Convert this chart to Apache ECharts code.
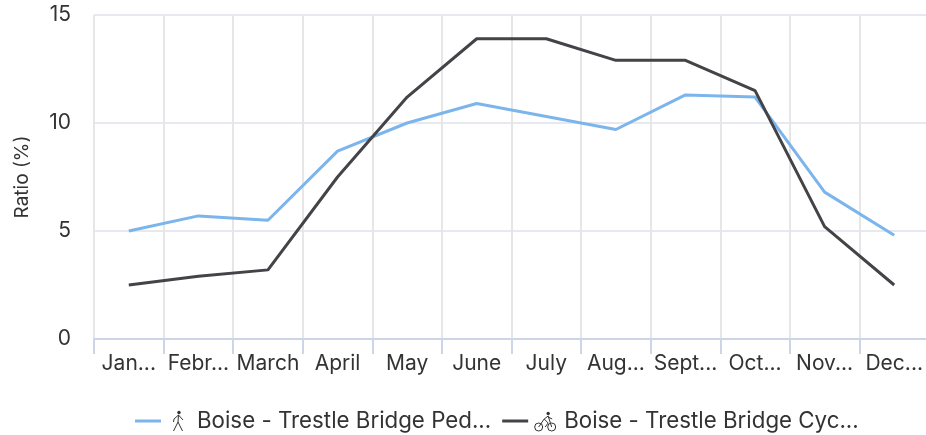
<!DOCTYPE html>
<html>
<head>
<meta charset="utf-8">
<script src="https://cdn.jsdelivr.net/npm/echarts@6/dist/echarts.min.js"></script>
<style>
  html, body { margin: 0; padding: 0; background: #fff; }
  #chart { width: 926px; height: 435px; }
</style>
</head>
<body>
<div id="chart"></div>
<script>
var categories = ["Jan...", "Febr...", "March", "April", "May", "June", "July", "Aug...", "Sept...", "Oct...", "Nov...", "Dec..."];
var yTicks = [0, 5, 10, 15];
var pedName = "Boise - Trestle Bridge Ped...";
var cycName = "Boise - Trestle Bridge Cyc...";
var pedValues = [5, 5.7, 5.5, 8.7, 10, 10.9, 10.3, 9.7, 11.3, 11.2, 6.8, 4.8];
var cycValues = [2.5, 2.9, 3.2, 7.5, 11.2, 13.9, 13.9, 12.9, 12.9, 11.5, 5.2, 2.5];

var fontName = "Inter";
var textColor = "#333333";

// legend icons, the page can't load the original icon font
function svgIcon(body) {
  return "data:image/svg+xml;charset=utf-8," + encodeURIComponent(
    '<svg xmlns="http://www.w3.org/2000/svg" width="24" height="24" viewBox="0 0 24 24" fill="none" stroke="#333" stroke-width="1">' + body + "</svg>"
  );
}
var walkIcon = svgIcon('<circle cx="13" cy="3.5" r="1.7" fill="#333" stroke="none"/><path d="M12.5 6 L8 10 L7.5 13 M12.5 6 L17 11 M12.5 6 L12 13 L7.5 22 M12 13 L16.5 22"/>');
var bikeIcon = svgIcon('<circle cx="5.5" cy="18" r="4"/><circle cx="18.5" cy="18" r="4"/><circle cx="15" cy="4.5" r="1.7" fill="#333" stroke="none"/><path d="M5.5 18 L11 10 L15 7 L18.5 18 M11 10 L15 14 L12 18 M15 8 L19 10"/>');

var myChart = echarts.init(document.getElementById("chart"));

var option = {
  animation: false,
  textStyle: { fontFamily: fontName },
  grid: { left: 94, top: 15, width: 835, height: 324, containLabel: false, outerBoundsMode: "none" },
  legend: {
    left: 135,
    top: 409,
    itemWidth: 26,
    itemHeight: 3,
    itemGap: 11,
    padding: 0,
    icon: "rect",
    data: [pedName, cycName],
    formatter: function (name) {
      return (name === pedName ? "{walk|}" : "{bike|}") + "{txt|" + name + "}";
    },
    textStyle: {
      rich: {
        walk: { width: 24, height: 24, align: "center", backgroundColor: { image: walkIcon } },
        bike: { width: 24, height: 24, align: "center", backgroundColor: { image: bikeIcon } },
        txt: { fontFamily: fontName, fontSize: 22.3, color: textColor, padding: [0, 0, 0, 7] }
      }
    }
  },
  xAxis: {
    type: "category",
    data: categories,
    boundaryGap: true,
    axisLine: { lineStyle: { color: "#ccd6eb", width: 2 } },
    axisTick: { show: true, length: 15, lineStyle: { color: "#ccd6eb", width: 2 } },
    axisLabel: { interval: 0, margin: 14, fontSize: 21, color: textColor, fontFamily: fontName },
    splitLine: { show: true, interval: 0, lineStyle: { color: "#e6e6e6", width: 2 } }
  },
  yAxis: {
    type: "value",
    min: yTicks[0],
    max: yTicks[yTicks.length - 1],
    interval: 5,
    name: "Ratio (%)",
    nameLocation: "middle",
    nameGap: 62,
    nameTextStyle: { fontSize: 19, color: textColor, fontFamily: fontName },
    axisLine: { show: false },
    axisTick: { show: false },
    axisLabel: { margin: 23, fontSize: 21, color: textColor, fontFamily: fontName, padding: [0, 0, 4, 0] },
    splitLine: { show: true, lineStyle: { color: "#e6e9f0", width: 2 } }
  },
  series: [
    {
      name: pedName,
      type: "line",
      data: pedValues,
      showSymbol: false,
      lineStyle: { color: "#7cb5ec", width: 3 },
      itemStyle: { color: "#7cb5ec" }
    },
    {
      name: cycName,
      type: "line",
      data: cycValues,
      showSymbol: false,
      lineStyle: { color: "#434348", width: 3 },
      itemStyle: { color: "#434348" }
    }
  ]
};

myChart.setOption(option);
</script>
</body>
</html>
